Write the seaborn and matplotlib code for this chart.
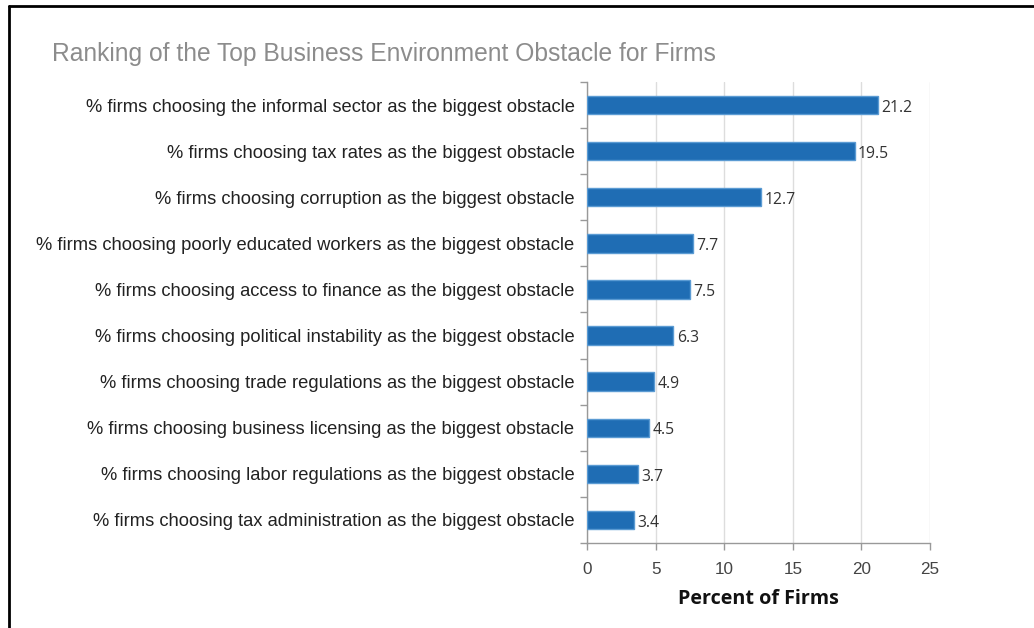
import numpy as np
import pandas as pd
import matplotlib
matplotlib.use('Agg')
import matplotlib.pyplot as plt
import seaborn as sns

# ─── Data ─────────────────────────────────────────────────────────────────────

obstacles = [
    "% firms choosing the informal sector as the biggest obstacle",
    "% firms choosing tax rates as the biggest obstacle",
    "% firms choosing corruption as the biggest obstacle",
    "% firms choosing poorly educated workers as the biggest obstacle",
    "% firms choosing access to finance as the biggest obstacle",
    "% firms choosing political instability as the biggest obstacle",
    "% firms choosing trade regulations as the biggest obstacle",
    "% firms choosing business licensing as the biggest obstacle",
    "% firms choosing labor regulations as the biggest obstacle",
    "% firms choosing tax administration as the biggest obstacle",
]
percent = [21.2, 19.5, 12.7, 7.7, 7.5, 6.3, 4.9, 4.5, 3.7, 3.4]
x_ticks = [0, 5, 10, 15, 20, 25]

df = pd.DataFrame({'obstacle': obstacles, 'percent': percent})

# ─── Plot ─────────────────────────────────────────────────────────────────────

sns.set_style('white')
plt.rcParams['font.family'] = ['Liberation Sans', 'DejaVu Sans']

fig = plt.figure(figsize=(10.34, 6.28), dpi=100)
ax = fig.add_axes([0.5677, 0.1354, 0.3317, 0.734])

sns.barplot(data=df, x='percent', y='obstacle', orient='h', width=0.4,
            color='#1f6db4', edgecolor='#5b9bd3', linewidth=1.0,
            saturation=1, ax=ax, zorder=3)

for i, v in enumerate(percent):
    ax.text(v + 0.25, i + 0.06, f'{v}', va='center', ha='left', fontsize=11.3,
            color='#333333', family=['Open Sans', 'DejaVu Sans'])

ax.set_xlim(0, 25)
ax.set_ylim(len(obstacles) - 0.5, -0.5)
ax.set_xticks(x_ticks)
ax.set_xticklabels([str(t) for t in x_ticks], fontsize=12.3, color='#444444')
ax.tick_params(axis='x', length=5, width=1, color='#999999', pad=9, direction='out', bottom=True)
ax.tick_params(axis='y', which='major', length=0, pad=9, labelsize=13.2, labelcolor='#222222')
ax.set_yticks(np.arange(len(obstacles) + 1) - 0.5, minor=True)
ax.tick_params(axis='y', which='minor', length=5, width=1, color='#999999', left=True)

ax.grid(axis='x', color='#dddddd', linewidth=1, zorder=0)
ax.set_axisbelow(True)
for s in ['top', 'right']:
    ax.spines[s].set_visible(False)
for s in ['left', 'bottom']:
    ax.spines[s].set_color('#999999')
    ax.spines[s].set_linewidth(1)

ax.set_ylabel('')
ax.set_xlabel('Percent of Firms', fontsize=14.2, fontweight='bold', color='#111111',
              family=['Open Sans', 'DejaVu Sans'], labelpad=8)

fig.text(52 / 1034, 1 - 54 / 628, 'Ranking of the Top Business Environment Obstacle for Firms',
         fontsize=17.7, color='#8c8c8c', va='center', ha='left')

# frame lines of the original screenshot (top and left edge)
fig.add_artist(plt.Line2D([9 / 1034, 1], [1 - 6 / 628, 1 - 6 / 628], color='black', linewidth=2))
fig.add_artist(plt.Line2D([9 / 1034, 9 / 1034], [0, 1 - 6 / 628], color='black', linewidth=2))

fig.savefig('out.png', dpi=100)
